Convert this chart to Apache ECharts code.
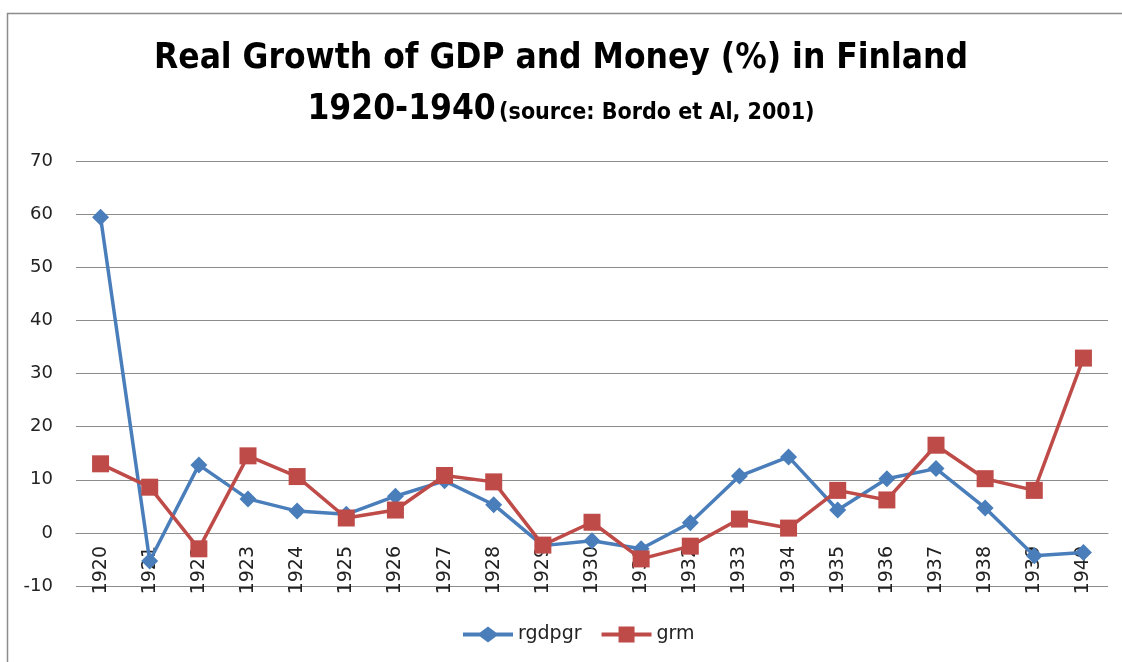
<!DOCTYPE html>
<html>
<head>
<meta charset="utf-8">
<script src="https://cdn.jsdelivr.net/npm/echarts@6/dist/echarts.min.js"></script>
<style>
  html, body { margin: 0; padding: 0; background: #fff; }
  #chartContainer { width: 1122px; height: 662px; }
</style>
</head>
<body>
<div id="chartContainer"></div>
<script>
// years on the category axis
var years = ['1920', '1921', '1922', '1923', '1924', '1925', '1926', '1927', '1928', '1929', '1930',
    '1931', '1932', '1933', '1934', '1935', '1936', '1937', '1938', '1939', '1940'];
// real GDP growth (%)
var rgdpgr = [59.4, -5.3, 12.8, 6.4, 4.1, 3.5, 6.9, 9.8, 5.3, -2.4, -1.5,
    -3.0, 1.9, 10.7, 14.3, 4.3, 10.2, 12.1, 4.7, -4.3, -3.7];
// real money growth (%)
var grm = [13.0, 8.6, -3.0, 14.5, 10.6, 2.8, 4.3, 10.8, 9.6, -2.3, 2.0,
    -4.9, -2.5, 2.6, 0.9, 8.0, 6.2, 16.5, 10.2, 8.0, 32.9];

var titleFont = '"Liberation Sans Narrow", "DejaVu Sans Condensed", sans-serif';
var axisFont = '"DejaVu Sans", sans-serif';

// legend icons: line with the marker in the middle
var diamondIcon = 'path://M0,6 H17 L25,0 L33,6 H50 V10 H33 L25,16 L17,10 H0 Z';
var squareIcon = 'path://M0,6 H17 V0 H33 V6 H50 V10 H33 V16 H17 V10 H0 Z';

var chart = echarts.init(document.getElementById('chartContainer'));
var option = {
    animation: false,
    graphic: [{
        type: 'rect',
        shape: {x: 7.5, y: 13.5, width: 1200, height: 700},
        style: {fill: 'none', stroke: '#8c8c8c', lineWidth: 1.5}
    }],
    title: {
        left: 'center',
        top: 36,
        text: 'Real Growth of GDP and Money (%) in Finland',
        textStyle: {fontFamily: titleFont, fontWeight: 'bold', fontSize: 35, color: '#000'},
        subtext: '{big|1920-1940} {small|(source: Bordo et Al, 2001)}',
        itemGap: 16,
        subtextStyle: {
            rich: {
                big: {fontFamily: titleFont, fontWeight: 'bold', fontSize: 35, color: '#000'},
                small: {fontFamily: titleFont, fontWeight: 'bold', fontSize: 23, color: '#000', padding: [8, 0, 0, 0]}
            }
        }
    },
    legend: {
        top: 620,
        left: 458,
        itemWidth: 50,
        itemHeight: 16,
        itemGap: 20,
        textStyle: {fontFamily: axisFont, fontSize: 19, color: '#222'},
        data: [
            {name: 'rgdpgr', icon: diamondIcon},
            {name: 'grm', icon: squareIcon}
        ]
    },
    grid: {left: 76, right: 14, top: 161, bottom: 76},
    xAxis: {
        type: 'category',
        data: years,
        boundaryGap: true,
        z: 0,
        // axis sits on the zero line, 53px above the bottom of the plot
        offset: -53,
        axisLine: {onZero: false, lineStyle: {color: '#8c8c8c', width: 1}},
        axisTick: {show: false},
        axisLabel: {rotate: 90, fontFamily: axisFont, fontSize: 19, color: '#222', margin: 13, interval: 0}
    },
    yAxis: {
        type: 'value',
        min: -10,
        max: 70,
        interval: 10,
        axisLine: {show: false},
        axisTick: {show: false},
        splitLine: {lineStyle: {color: '#8c8c8c', width: 1}},
        axisLabel: {fontFamily: axisFont, fontSize: 18, color: '#222', margin: 23}
    },
    series: [
        {
            name: 'rgdpgr',
            type: 'line',
            z: 5,
            data: rgdpgr,
            symbol: 'diamond',
            symbolSize: 17,
            lineStyle: {color: '#4a7ebb', width: 3.5},
            itemStyle: {color: '#4a7ebb'}
        },
        {
            name: 'grm',
            type: 'line',
            z: 5,
            data: grm,
            symbol: 'rect',
            symbolSize: 17,
            lineStyle: {color: '#be4b48', width: 3.5},
            itemStyle: {color: '#be4b48'}
        }
    ]
};
chart.setOption(option);
</script>
</body>
</html>
